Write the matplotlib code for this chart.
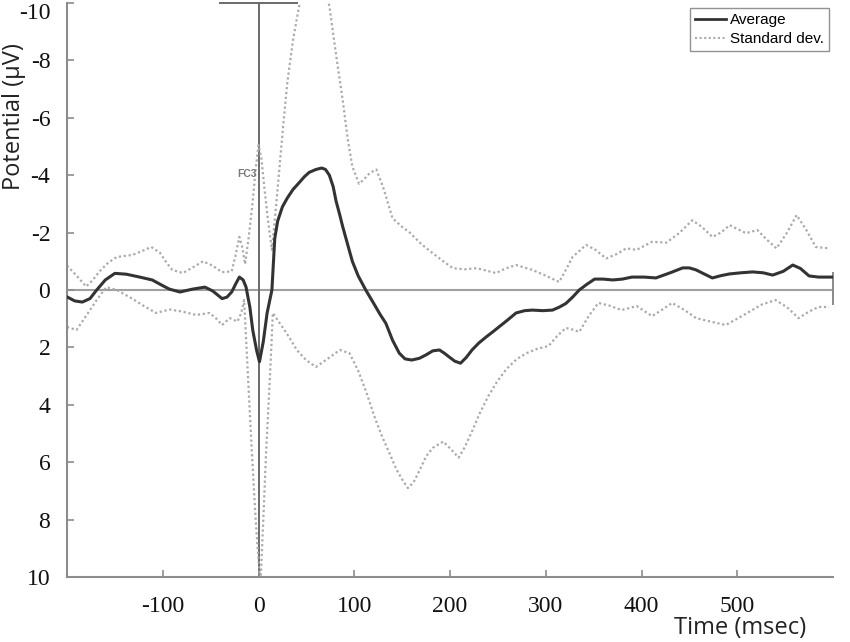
import matplotlib
matplotlib.use("Agg")
import matplotlib.pyplot as plt

# ---- data (time in ms, potential in microvolts; negative plotted upward) ----
avg_t = [-200, -192, -184, -176, -169, -160, -150, -138, -124, -111, -100, -93, -82, -69,
         -56, -48, -38, -33, -28, -24, -20, -16, -13, -9, -6, -2, 1, 5, 9, 14, 17, 20, 25,
         30, 36, 43, 48, 53, 60, 66, 70, 74, 78, 81, 85, 88, 93, 98, 104, 112, 120, 127,
         133, 140, 147, 153, 160, 168, 175, 182, 189, 194, 199, 205, 211, 217, 223, 230,
         238, 245, 251, 260, 269, 278, 286, 297, 307, 314, 321, 328, 335, 343, 351, 360,
         370, 380, 390, 403, 415, 430, 443, 450, 457, 466, 474, 483, 492, 504, 516, 527,
         537, 548, 558, 566, 575, 585, 596, 600]
avg_v = [0.24, 0.38, 0.42, 0.3, 0.0, -0.35, -0.58, -0.55, -0.45, -0.35, -0.15, -0.03, 0.07,
         -0.03, -0.1, 0.03, 0.3, 0.25, 0.07, -0.2, -0.45, -0.35, -0.1, 0.6, 1.4, 2.1, 2.5,
         1.8, 0.8, 0.0, -1.8, -2.4, -2.9, -3.2, -3.5, -3.76, -3.95, -4.1, -4.2, -4.25, -4.2,
         -4.0, -3.6, -3.1, -2.6, -2.2, -1.6, -1.0, -0.5, 0.0, 0.45, 0.85, 1.16, 1.75, 2.2,
         2.4, 2.44, 2.38, 2.26, 2.12, 2.09, 2.2, 2.33, 2.48, 2.55, 2.35, 2.09, 1.85, 1.63,
         1.45, 1.29, 1.05, 0.8, 0.72, 0.7, 0.72, 0.7, 0.6, 0.47, 0.25, 0.0, -0.2, -0.38,
         -0.38, -0.35, -0.38, -0.45, -0.45, -0.42, -0.6, -0.77, -0.77, -0.7, -0.55, -0.42,
         -0.5, -0.56, -0.6, -0.63, -0.6, -0.52, -0.65, -0.87, -0.75, -0.49, -0.45, -0.45,
         -0.45]

up_t = [-200, -190, -180, -173, -166, -157, -148, -132, -122, -112, -103, -96, -90, -79,
        -68, -58, -48, -38, -28, -24, -20, -17, -14, -10, -6, -3, 0, 3, 6, 10, 14, 18, 22,
        26, 30, 36, 43, 55, 65, 74, 81, 88, 93, 98, 105, 110, 116, 123, 130, 140, 150, 158,
        170, 182, 193, 203, 215, 228, 248, 258, 269, 286, 300, 314, 321, 328, 342, 352, 363,
        374, 384, 395, 411, 426, 440, 453, 463, 474, 483, 492, 509, 521, 531, 541, 552, 562,
        572, 582, 596]
up_v = [-0.85, -0.5, -0.12, -0.35, -0.65, -0.95, -1.15, -1.22, -1.35, -1.5, -1.3, -0.95,
        -0.7, -0.59, -0.8, -1.0, -0.85, -0.62, -0.65, -1.2, -1.85, -1.5, -0.9, -1.9, -3.1,
        -4.2, -5.05, -4.6, -3.6, -2.4, -1.4, -2.8, -4.3, -5.8, -7.2, -8.7, -10.0, -11.2,
        -11.0, -9.9, -8.2, -6.6, -5.3, -4.3, -3.7, -3.85, -4.07, -4.2, -3.6, -2.5, -2.2,
        -2.0, -1.6, -1.28, -1.0, -0.76, -0.72, -0.76, -0.59, -0.75, -0.87, -0.7, -0.5,
        -0.28, -0.7, -1.15, -1.57, -1.4, -1.1, -1.25, -1.45, -1.4, -1.68, -1.65, -2.0,
        -2.43, -2.2, -1.85, -2.0, -2.26, -1.98, -2.09, -1.75, -1.45, -2.0, -2.61, -2.1,
        -1.5, -1.45]

lo_t = [-200, -190, -180, -169, -159, -148, -132, -120, -107, -93, -80, -65, -51, -44, -38,
        -30, -22, -18, -15, -11, -7, -3, 2, 5, 8, 12, 15, 21, 27, 34, 40, 50, 60, 72, 85,
        95, 104, 113, 121, 129, 137, 144, 150, 156, 162, 168, 175, 182, 193, 201, 209, 215,
        222, 231, 240, 249, 259, 270, 280, 291, 303, 312, 321, 328, 335, 345, 355, 367,
        379, 395, 411, 421, 432, 445, 457, 472, 488, 500, 512, 526, 540, 552, 564, 575,
        585, 596]
lo_v = [1.29, 1.39, 0.9, 0.35, -0.1, 0.0, 0.3, 0.55, 0.8, 0.68, 0.75, 0.87, 0.8, 1.0, 1.22,
        0.98, 1.1, 0.8, 0.35, 3.0, 5.6, 8.0, 10.3, 8.0, 5.6, 3.0, 0.8, 1.1, 1.39, 1.75,
        2.09, 2.45, 2.68, 2.4, 2.09, 2.2, 2.8, 3.6, 4.4, 5.1, 5.7, 6.25, 6.6, 6.9, 6.7,
        6.3, 5.8, 5.5, 5.28, 5.55, 5.84, 5.5, 5.0, 4.3, 3.7, 3.2, 2.75, 2.4, 2.2, 2.05,
        1.95, 1.6, 1.32, 1.38, 1.46, 0.9, 0.45, 0.55, 0.7, 0.56, 0.91, 0.7, 0.45, 0.7, 0.98,
        1.1, 1.22, 1.0, 0.77, 0.5, 0.35, 0.6, 0.98, 0.75, 0.59, 0.59]

x_ticks = [-100, 0, 100, 200, 300, 400, 500]
y_ticks = [-10, -8, -6, -4, -2, 0, 2, 4, 6, 8, 10]

fig = plt.figure(figsize=(8.5, 6.42), dpi=100)
ax = fig.add_axes([67 / 850, 1 - 577 / 642, 766 / 850, 574 / 642])
ax.set_xlim(-200, 600)
ax.set_ylim(10, -10)

grey = "#8c8c8c"
ax.axhline(0, color="#a0a0a0", lw=1.5, zorder=1)
ax.plot([0, 0], [-10, 10], color="#6a6a6a", lw=1.4, zorder=1, clip_on=False)
ax.plot([-40, 40], [-10, -10], color="#6a6a6a", lw=1.4, zorder=1, clip_on=False)
ax.plot([600, 600], [-0.6, 0.5], color="#8a8a8a", lw=1.4, zorder=1, clip_on=False)

sd_style = dict(color="#aaaaaa", lw=1.6, linestyle=(0, (1, 1.2)), zorder=2)
ax.plot(up_t, up_v, **sd_style)
ax.plot(lo_t, lo_v, **sd_style)
ax.plot(avg_t, avg_v, color="#333333", lw=2.2, zorder=3, solid_joinstyle="round")

ax.text(-2, -4.05, "FC3", fontsize=7.5, color="#7a7a7a", ha="right", va="center",
        family="Liberation Sans", fontweight="bold")

for s in ["top", "right"]:
    ax.spines[s].set_visible(False)
for s in ["left", "bottom"]:
    ax.spines[s].set_color(grey)
    ax.spines[s].set_linewidth(1.5)

ax.set_xticks(x_ticks)
ax.set_yticks(y_ticks)
ax.set_xticklabels([str(v) for v in x_ticks])
ax.set_yticklabels([str(v) for v in y_ticks])
ax.tick_params(axis="both", direction="in", length=5, width=1.2, color=grey,
               labelsize=17, labelcolor="#111111")
ax.tick_params(axis="x", pad=14)
ax.tick_params(axis="y", pad=12)
for lab in ax.get_xticklabels() + ax.get_yticklabels():
    lab.set_family("Liberation Serif")
ax.get_yticklabels()[0].set_verticalalignment("top")

fig.text(740 / 850, 1 - 628 / 642, "Time (msec)", fontsize=17, family="Open Sans",
         ha="center", va="center", color="#222222")
fig.text(14 / 850, 1 - 117 / 642, "Potential (\u03bcV)", fontsize=17, family="Open Sans",
         ha="center", va="center", rotation=90, color="#222222")

h1, = ax.plot([], [], color="#333333", lw=2.0, label="Average")
h2, = ax.plot([], [], color="#aaaaaa", lw=1.5, linestyle=(0, (1, 1.2)), label="Standard dev.")
leg = ax.legend(handles=[h1, h2], loc="upper right", bbox_to_anchor=(829 / 850, 1 - 8 / 642),
                bbox_transform=fig.transFigure, frameon=True, fancybox=False,
                prop={"family": "Liberation Sans", "size": 11}, handlelength=2.0,
                handletextpad=0.25, borderpad=0.35, labelspacing=0.3, borderaxespad=0)
leg.get_frame().set_edgecolor("#777777")
leg.get_frame().set_linewidth(1.0)

fig.savefig("out.png", dpi=100)
